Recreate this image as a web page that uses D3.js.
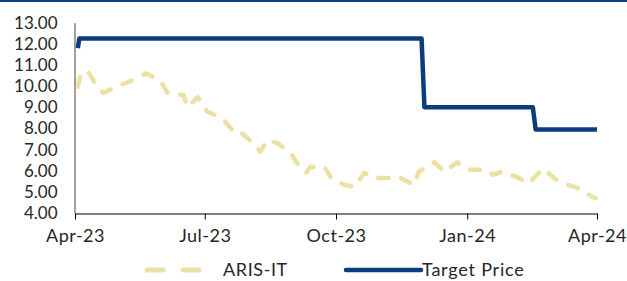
<!DOCTYPE html>
<html>
<head>
<meta charset="utf-8">
<script src="https://cdn.jsdelivr.net/npm/d3@7"></script>
<style>
  body { margin: 0; background: #fff; }
  text { font-family: Lato, "Open Sans", sans-serif; fill: #262626; }
</style>
</head>
<body>
<svg id="chart" width="627" height="281"></svg>
<script>
// ARIS-IT share price
const priceDates = ['2023-04-03','2023-04-05','2023-04-10','2023-04-16','2023-04-21','2023-04-30','2023-05-07',
  '2023-05-15','2023-05-21','2023-05-31','2023-06-05','2023-06-16','2023-06-19','2023-06-26','2023-07-03',
  '2023-07-05','2023-07-13','2023-07-22','2023-07-26','2023-07-31','2023-08-09','2023-08-14','2023-08-21',
  '2023-08-30','2023-09-07','2023-09-10','2023-09-13','2023-09-23','2023-09-28','2023-10-07','2023-10-14',
  '2023-10-21','2023-10-27','2023-11-06','2023-11-15','2023-11-25','2023-11-28','2023-12-09','2023-12-16',
  '2023-12-25','2024-01-01','2024-01-03','2024-01-15','2024-01-19','2024-01-25','2024-02-05','2024-02-13',
  '2024-02-23','2024-03-03','2024-03-08','2024-03-18','2024-03-29','2024-03-31']
const priceValues = [9.97,10.6,10.7,10.05,9.67,10.0,10.15,
  10.4,10.6,10.25,9.67,9.58,9.0,9.48,8.77,
  8.73,8.5,7.78,7.83,7.55,6.9,7.45,7.3,
  6.85,6.04,5.9,6.18,6.18,5.6,5.33,5.23,
  5.9,5.66,5.66,5.66,5.33,5.95,6.4,5.95,
  6.4,6.05,6.05,6.05,5.8,5.95,5.7,5.39,
  6.1,5.6,5.4,5.2,4.75,4.7]

// target price changes
const targetDates = ['2023-04-03','2023-04-04','2023-11-30','2023-12-02','2024-02-16','2024-02-18','2024-04-01']
const targetValues = [11.8,12.25,12.25,9.0,9.0,7.95,7.95]

const xTicks = ['2023-04-01','2023-07-01','2023-10-01','2024-01-01','2024-04-01']
const yTicks = [4,5,6,7,8,9,10,11,12,13]

const parse = d3.timeParse('%Y-%m-%d')
const price = priceDates.map((d, i) => ({ date: parse(d), value: priceValues[i] }))
const target = targetDates.map((d, i) => ({ date: parse(d), value: targetValues[i] }))

const svg = d3.select('#chart')

// navy rule across the top
svg.append('rect').attr('x', 0).attr('y', 0).attr('width', 627).attr('height', 2).attr('fill', '#0b3d7e')

const x = d3.scaleTime().domain([parse('2023-04-01'), parse('2024-04-01')]).range([75, 597])
const y = d3.scaleLinear().domain([4, 13]).range([213, 22.7])

const yAxis = svg.append('g')
  .attr('transform', 'translate(74.5,0)')
  .call(d3.axisLeft(y).tickValues(yTicks).tickFormat(d3.format('.2f')).tickSize(0).tickPadding(17))
yAxis.select('.domain').attr('stroke', '#808080').attr('stroke-width', 1.5)
yAxis.selectAll('text').attr('font-size', 17).style('font-family', 'Lato, sans-serif')

const xAxis = svg.append('g')
  .attr('transform', 'translate(0,213.5)')
  .call(d3.axisBottom(x).tickValues(xTicks.map(parse)).tickFormat(d3.timeFormat('%b-%y')).tickSize(6).tickSizeOuter(0).tickPadding(10))
xAxis.select('.domain').attr('stroke', '#000')
xAxis.selectAll('text').attr('font-size', 18).attr('letter-spacing', 0.5).style('font-family', 'Lato, sans-serif')

const line = d3.line().x(d => x(d.date)).y(d => y(d.value))

svg.append('path')
  .datum(price)
  .attr('fill', 'none')
  .attr('stroke', '#ece1a4')
  .attr('stroke-width', 4.5)
  .attr('stroke-linecap', 'round')
  .attr('stroke-linejoin', 'round')
  .attr('stroke-dasharray', '10,13')
  .attr('d', line)

svg.append('path')
  .datum(target)
  .attr('fill', 'none')
  .attr('stroke', '#0b3d7e')
  .attr('stroke-width', 4.5)
  .attr('stroke-linejoin', 'round')
  .attr('d', line)

// legend
const legend = svg.append('g')
legend.append('line')
  .attr('x1', 147).attr('x2', 200).attr('y1', 270).attr('y2', 270)
  .attr('stroke', '#ece1a4').attr('stroke-width', 5)
  .attr('stroke-linecap', 'round').attr('stroke-dasharray', '16,20')
legend.append('text').attr('x', 223).attr('y', 270).attr('dy', '0.35em')
  .attr('font-size', 18).attr('letter-spacing', 0.6).text('ARIS-IT')
legend.append('line')
  .attr('x1', 346).attr('x2', 421).attr('y1', 270).attr('y2', 270)
  .attr('stroke', '#0b3d7e').attr('stroke-width', 4.5).attr('stroke-linecap', 'round')
legend.append('text').attr('x', 422).attr('y', 270).attr('dy', '0.35em')
  .attr('font-size', 18).attr('letter-spacing', 0.8).text('Target Price')
</script>
</body>
</html>
